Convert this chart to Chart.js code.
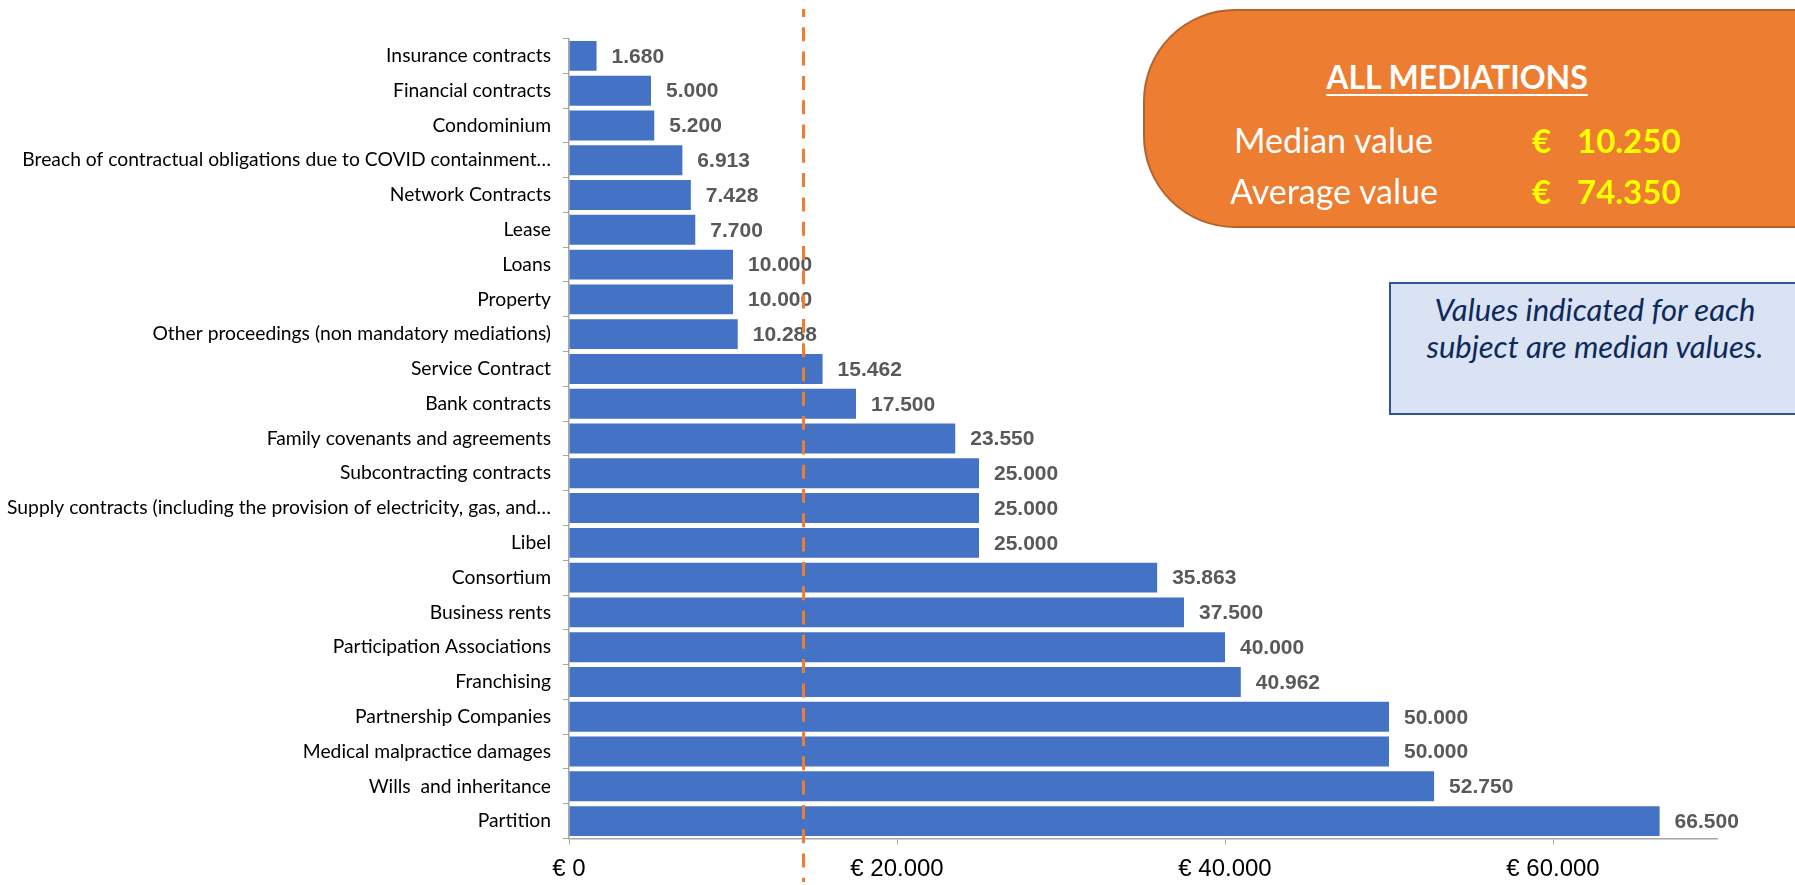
<!DOCTYPE html>
<html>
<head>
<meta charset="utf-8">
<script src="https://cdn.jsdelivr.net/npm/chart.js@4.4.1/dist/chart.umd.min.js"></script>
<style>
  html, body { margin: 0; padding: 0; background: #fff; overflow: hidden; }
  #wrap { position: relative; width: 1795px; height: 885px; }
  #chart { position: absolute; left: 0; top: 0; }
  .orange {
    position: absolute; left: 1143px; top: 9px; width: 700px; height: 215px;
    background: #ED7D31; border: 2px solid #B7622B; border-radius: 92px 0 0 92px;
  }
  .t { position: absolute; font-family: Lato, sans-serif; white-space: pre; line-height: 1; }
  .title { left: 1457px; top: 61px; transform: translateX(-50%); color: #fff; font-weight: bold; font-size: 32px;
           text-decoration: underline; text-underline-offset: 5px; text-decoration-thickness: 2px; }
  .lbl { color: #fff; font-size: 34px; }
  .val { color: #FFFF00; font-weight: bold; font-size: 33px; }
  .note {
    position: absolute; left: 1389px; top: 282px; width: 412px; height: 133px;
    background: #DAE3F3; border: 2px solid #2F5597; text-align: center;
    font-family: Lato, sans-serif; font-style: italic; font-size: 31px; line-height: 37px;
    color: #0E2A5C; padding-top: 6.5px; box-sizing: border-box;
  }
</style>
</head>
<body>
<div id="wrap">
  <canvas id="chart" width="1795" height="885"></canvas>
  <div class="orange"></div>
  <div class="t title">ALL MEDIATIONS</div>
  <div class="t lbl" style="left:1234px; top:122.5px;">Median value</div>
  <div class="t val" style="left:1532px; top:124px;">€</div>
  <div class="t val" style="left:1577px; top:124px;">10.250</div>
  <div class="t lbl" style="left:1230px; top:174px;">Average value</div>
  <div class="t val" style="left:1532px; top:175px;">€</div>
  <div class="t val" style="left:1577px; top:175px;">74.350</div>
  <div class="note">Values indicated for each<br>subject are median values.</div>
</div>
<script>
// categories (top to bottom) and median values in euro
var subjects = [
  "Insurance contracts",
  "Financial contracts",
  "Condominium",
  "Breach of contractual obligations due to COVID containment…",
  "Network Contracts",
  "Lease",
  "Loans",
  "Property",
  "Other proceedings (non mandatory mediations)",
  "Service Contract",
  "Bank contracts",
  "Family covenants and agreements",
  "Subcontracting contracts",
  "Supply contracts (including the provision of electricity, gas, and…",
  "Libel",
  "Consortium",
  "Business rents",
  "Participation Associations",
  "Franchising",
  "Partnership Companies",
  "Medical malpractice damages",
  "Wills  and inheritance",
  "Partition"
];
var medianValues = [
  1680, 5000, 5200, 6913, 7428, 7700, 10000, 10000, 10288, 15462, 17500,
  23550, 25000, 25000, 25000, 35863, 37500, 40000, 40962, 50000, 50000, 52750, 66500
];
var xTicks = [0, 20000, 40000, 60000];
var referenceLine = 14300; // dashed orange marker

function fmt(v) {
  return String(Math.round(v)).replace(/\B(?=(\d{3})+(?!\d))/g, ".");
}

// value labels next to the bars
var barLabels = {
  id: "barLabels",
  afterDatasetsDraw: function (chart) {
    var ctx = chart.ctx;
    var meta = chart.getDatasetMeta(0);
    ctx.save();
    ctx.font = "bold 21px 'Liberation Sans', Arial, sans-serif";
    ctx.fillStyle = "#595959";
    ctx.textAlign = "left";
    ctx.textBaseline = "middle";
    meta.data.forEach(function (bar, i) {
      ctx.fillText(fmt(medianValues[i]), bar.x + 15, bar.y + 1);
    });
    ctx.restore();
  }
};

// vertical dashed line
var dashedLine = {
  id: "dashedLine",
  afterDraw: function (chart) {
    var ctx = chart.ctx;
    var x = chart.scales.x.getPixelForValue(referenceLine);
    ctx.save();
    ctx.strokeStyle = "#ED7D31";
    ctx.lineWidth = 3;
    ctx.setLineDash([14, 10.3]);
    ctx.lineDashOffset = 6;
    ctx.beginPath();
    ctx.moveTo(x, 9);
    ctx.lineTo(x, 882);
    ctx.stroke();
    ctx.restore();
  }
};

var ctx = document.getElementById("chart").getContext("2d");

var chart = new Chart(ctx, {
  type: "bar",
  data: {
    labels: subjects,
    datasets: [
      {
        data: medianValues,
        backgroundColor: "#4472C4",
        borderWidth: 0,
        categoryPercentage: 0.86,
        barPercentage: 1,
      },
    ],
  },
  options: {
    indexAxis: "y",
    responsive: false,
    animation: false,
    layout: {
      padding: { top: 38.5, right: 78, left: 0, bottom: 0 },
    },
    plugins: {
      legend: { display: false },
      tooltip: { enabled: false },
    },
    scales: {
      y: {
        grid: { drawOnChartArea: false, tickLength: 6, color: "#A6A6A6", offset: true },
        border: { color: "#A6A6A6", width: 1.5 },
        ticks: {
          autoSkip: false,
          color: "#000",
          padding: 12,
          font: { family: "Lato", size: 19.3 },
        },
        afterFit: function (s) { s.width = 569; },
      },
      x: {
        min: 0,
        max: 70000,
        afterBuildTicks: function (s) {
          s.ticks = xTicks.map(function (v) { return { value: v }; });
        },
        grid: { drawOnChartArea: false, tickLength: 6, color: "#A6A6A6" },
        border: { color: "#A6A6A6", width: 1.5 },
        ticks: {
          color: "#000",
          padding: 10,
          font: { family: "'Liberation Sans', Arial", size: 24 },
          callback: function (v) { return "€ " + fmt(v); },
        },
        afterFit: function (s) { s.height = 46.5; },
      },
    },
  },
  plugins: [barLabels, dashedLine],
});
</script>
</body>
</html>
